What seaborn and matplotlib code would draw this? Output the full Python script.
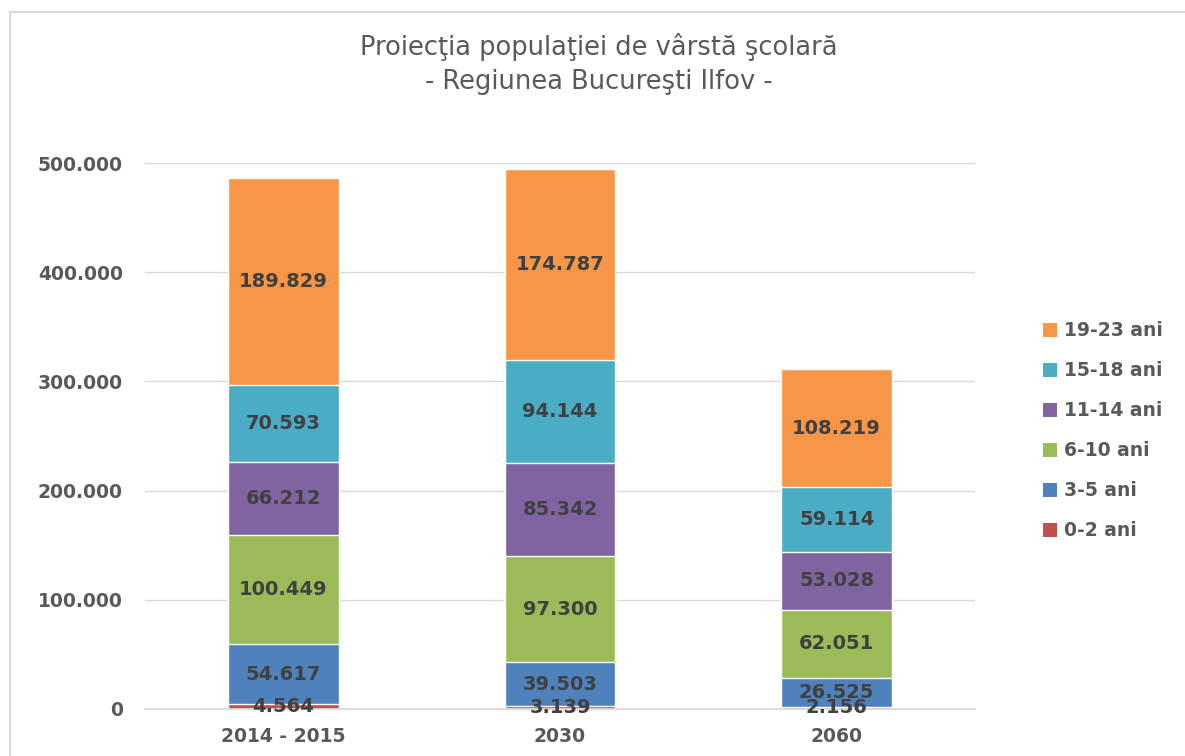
import matplotlib
matplotlib.use("Agg")
import matplotlib.pyplot as plt
import seaborn as sns
import pandas as pd
import numpy as np
from matplotlib.lines import Line2D
from matplotlib.patches import Patch

periods = ["2014 - 2015", "2030", "2060"]
series = ["0-2 ani", "3-5 ani", "6-10 ani", "11-14 ani", "15-18 ani", "19-23 ani"]
v_0_2 = [4564, 3139, 2156]
v_3_5 = [54617, 39503, 26525]
v_6_10 = [100449, 97300, 62051]
v_11_14 = [66212, 85342, 53028]
v_15_18 = [70593, 94144, 59114]
v_19_23 = [189829, 174787, 108219]
colors = ["#C0504D", "#4F81BD", "#9BBB59", "#8064A2", "#4BACC6", "#F79646"]
yticks = [0, 100000, 200000, 300000, 400000, 500000]
title = "Proiecţia populaţiei de vârstă şcolară\n- Regiunea Bucureşti Ilfov -"

values = [v_0_2, v_3_5, v_6_10, v_11_14, v_15_18, v_19_23]
rows = []
for s, vals in zip(series, values):
    for p, v in zip(periods, vals):
        rows.append({"period": p, "series": s, "value": v})
df = pd.DataFrame(rows)
df["cum"] = df.groupby("period")["value"].cumsum()
df["bottom"] = df["cum"] - df["value"]

sns.set_theme(style="white")
plt.rcParams["font.family"] = ["DejaVu Sans"]

fig = plt.figure(figsize=(11.85, 7.56), dpi=100)
ax = fig.add_axes([145/1185, 47/756, 830/1185, 546/756])

# draw cumulative totals from top series down so each layer covers the one above
for s, c in reversed(list(zip(series, colors))):
    sub = df[df["series"] == s]
    sns.barplot(data=sub, x="period", y="cum", order=periods, color=c,
                width=0.4, saturation=1, ax=ax, zorder=2)

# labels
for _, r in df.iterrows():
    xi = periods.index(r["period"])
    yc = r["bottom"] + r["value"] / 2
    ax.text(xi, yc, f"{int(r['value']):,}".replace(",", "."), ha="center", va="center",
            fontsize=14, fontweight="bold", color="#404040", zorder=5)

ax.set_xlim(-0.5, 2.5)
ax.set_ylim(0, 500000)
ax.set_yticks(yticks)
ax.set_yticklabels([f"{t:,}".replace(",", ".") for t in yticks])
ax.yaxis.grid(True, color="#D9D9D9", linewidth=1)
ax.set_axisbelow(True)
for sp in ["top", "right", "left"]:
    ax.spines[sp].set_visible(False)
ax.spines["bottom"].set_color("#D9D9D9")
ax.tick_params(axis="both", length=0, labelsize=13.5, labelcolor="#595959")
for lbl in ax.get_xticklabels() + ax.get_yticklabels():
    lbl.set_fontweight("bold")
ax.tick_params(axis="y", pad=16)
ax.tick_params(axis="x", pad=13)
ax.set_xlabel("")
ax.set_ylabel("")

fig.text(0.505, 0.916, title, ha="center", va="center", fontsize=18.5,
         color="#595959", linespacing=1.4)

handles = [Patch(facecolor=c, edgecolor="none", label=s) for s, c in zip(series, colors)]
leg = fig.legend(handles=handles[::-1], loc="center left",
                 bbox_to_anchor=(1026/1185, 1 - 431/756), frameon=False,
                 handlelength=0.75, handleheight=0.75, handletextpad=0.4,
                 labelspacing=1.12, prop={"size": 13.5, "weight": "bold"})
for t in leg.get_texts():
    t.set_color("#595959")

# outer chart frame
fig.add_artist(Line2D([10/1185, 10/1185], [0, 1 - 12/756], transform=fig.transFigure,
                      color="#D9D9D9", linewidth=1.5))
fig.add_artist(Line2D([10/1185, 1], [1 - 12/756, 1 - 12/756], transform=fig.transFigure,
                      color="#D9D9D9", linewidth=1.5))

fig.savefig("out.png", dpi=100)
